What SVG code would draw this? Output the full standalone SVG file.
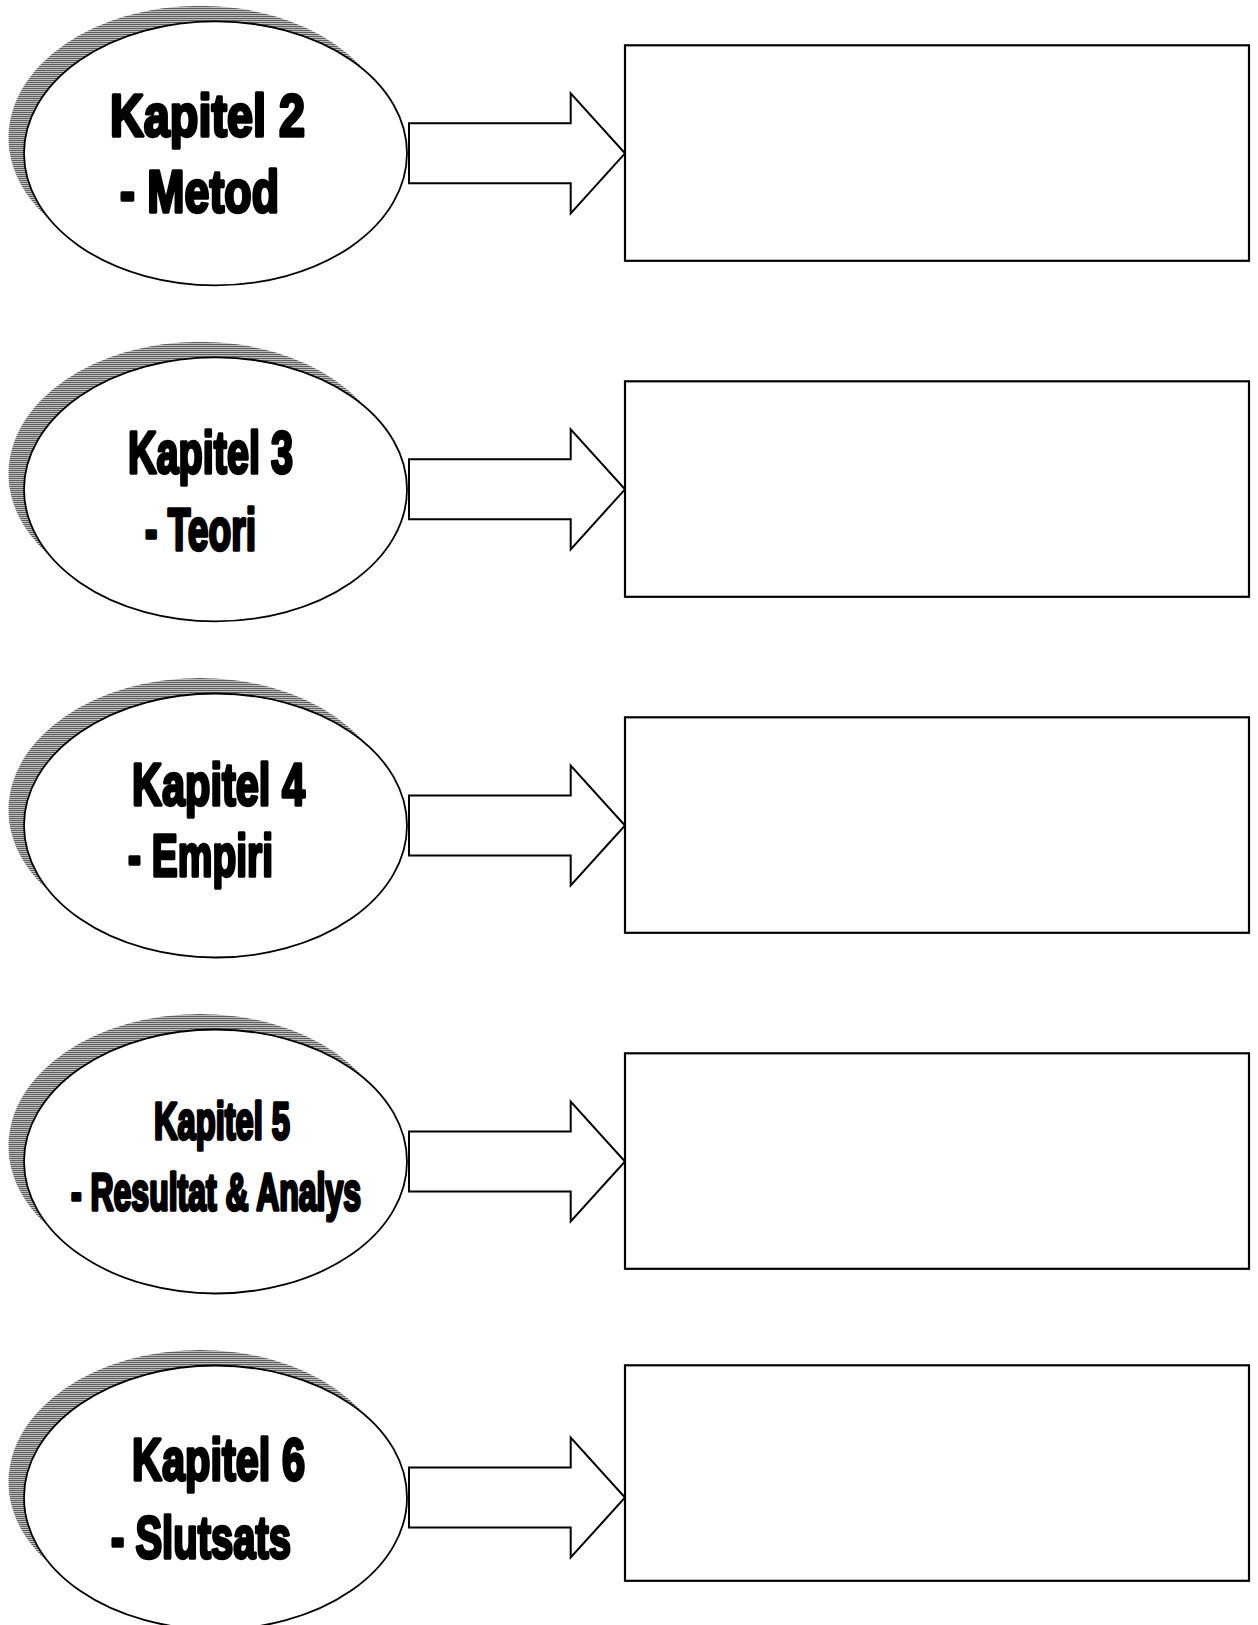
<svg xmlns="http://www.w3.org/2000/svg" width="1258" height="1625" viewBox="0 0 1258 1625">
<defs>
<pattern id="stripes" patternUnits="userSpaceOnUse" x="0" y="0" width="8" height="2">
<rect x="0" y="0" width="8" height="2" fill="#ffffff"/>
<rect x="0" y="0" width="8" height="1.4" fill="#5e5e5e"/>
</pattern>
</defs>
<style>
.bg{fill:#ffffff}
.shadow{fill:url(#stripes);stroke:none}
.ell{fill:#ffffff;stroke:#000;stroke-width:1.8}
.box{fill:#ffffff;stroke:#000;stroke-width:2.2}
.arrow{fill:#ffffff;stroke:#000;stroke-width:2;stroke-linejoin:miter}
.lbl{font-family:"Liberation Sans",Arial,sans-serif;font-weight:bold;fill:#000;stroke:#000;stroke-width:3.4;stroke-linejoin:round}
.big{font-size:60px}
.small{font-size:51px}
</style>
<rect class="bg" x="0" y="0" width="1258" height="1625"/>

<g id="node-kapitel2">
<ellipse class="shadow" cx="200" cy="137.8" rx="191.5" ry="132"/>
<ellipse class="ell" cx="215.5" cy="153.3" rx="191.5" ry="132"/>
<text class="lbl big" x="110" y="136" textLength="195" lengthAdjust="spacingAndGlyphs">Kapitel 2</text>
<text class="lbl big" x="120" y="212" textLength="159" lengthAdjust="spacingAndGlyphs">- Metod</text>
</g>
<g id="box-2"><rect class="box" x="625" y="45.3" width="624" height="215.5"/></g>

<g id="node-kapitel3">
<ellipse class="shadow" cx="200" cy="473.8" rx="191.5" ry="132"/>
<ellipse class="ell" cx="215.5" cy="489.3" rx="191.5" ry="132"/>
<text class="lbl big" x="128" y="473" textLength="165" lengthAdjust="spacingAndGlyphs">Kapitel 3</text>
<text class="lbl big" x="145" y="550" textLength="111" lengthAdjust="spacingAndGlyphs">- Teori</text>
</g>
<g id="box-3"><rect class="box" x="625" y="381.3" width="624" height="215.5"/></g>

<g id="node-kapitel4">
<ellipse class="shadow" cx="200" cy="810" rx="191.5" ry="132"/>
<ellipse class="ell" cx="215.5" cy="825.5" rx="191.5" ry="132"/>
<text class="lbl big" x="132" y="805" textLength="173" lengthAdjust="spacingAndGlyphs">Kapitel 4</text>
<text class="lbl big" x="128" y="876" textLength="145" lengthAdjust="spacingAndGlyphs">- Empiri</text>
</g>
<g id="box-4"><rect class="box" x="625" y="717.3" width="624" height="215.5"/></g>

<g id="node-kapitel5">
<ellipse class="shadow" cx="200" cy="1146" rx="191.5" ry="132"/>
<ellipse class="ell" cx="215.5" cy="1161.5" rx="191.5" ry="132"/>
<text class="lbl small" x="154" y="1139" textLength="136" lengthAdjust="spacingAndGlyphs">Kapitel 5</text>
<text class="lbl small" x="71" y="1210" textLength="290" lengthAdjust="spacingAndGlyphs">- Resultat &amp; Analys</text>
</g>
<g id="box-5"><rect class="box" x="625" y="1053.3" width="624" height="215.5"/></g>

<g id="node-kapitel6">
<ellipse class="shadow" cx="200" cy="1482" rx="191.5" ry="132"/>
<ellipse class="ell" cx="215.5" cy="1497.5" rx="191.5" ry="132"/>
<text class="lbl big" x="132" y="1480" textLength="173" lengthAdjust="spacingAndGlyphs">Kapitel 6</text>
<text class="lbl big" x="111" y="1558" textLength="180" lengthAdjust="spacingAndGlyphs">- Slutsats</text>
</g>
<g id="box-6"><rect class="box" x="625" y="1365.3" width="624" height="215.5"/></g>

<g id="connectors">
<path class="arrow" d="M409,123.3 H570.7 V93.3 L625,153.3 L570.7,213.3 V183.3 H409 Z"/>
<path class="arrow" d="M409,459.3 H570.7 V429.3 L625,489.3 L570.7,549.3 V519.3 H409 Z"/>
<path class="arrow" d="M409,795.5 H570.7 V765.5 L625,825.5 L570.7,885.5 V855.5 H409 Z"/>
<path class="arrow" d="M409,1131.5 H570.7 V1101.5 L625,1161.5 L570.7,1221.5 V1191.5 H409 Z"/>
<path class="arrow" d="M409,1467.5 H570.7 V1437.5 L625,1497.5 L570.7,1557.5 V1527.5 H409 Z"/>
</g>
</svg>
